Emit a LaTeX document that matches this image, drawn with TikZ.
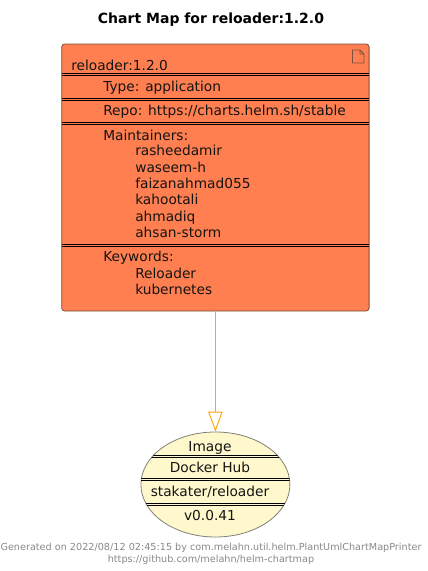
\documentclass[tikz,border=0pt]{standalone}
\usepackage{fontspec}
\setmainfont{DejaVu Sans}
\usetikzlibrary{shapes.geometric,arrows.meta}
\definecolor{chartfill}{HTML}{FF7F50}
\definecolor{chartedge}{HTML}{7A5040}
\definecolor{imgfill}{HTML}{FFF8CC}
\definecolor{imgedge}{HTML}{808078}
\definecolor{linkc}{HTML}{FFA500}
\definecolor{foot}{HTML}{888888}
\tikzset{x=0.75pt,y=-0.75pt,
 chartbox/.style={draw=chartedge,fill=chartfill,rounded corners=2.25pt,line width=0.6pt,minimum width=230.6pt,minimum height=200.25pt,inner sep=0pt},
 imgshape/.style={draw=imgedge,fill=imgfill,ellipse,line width=0.6pt,minimum width=111.75pt,minimum height=78.75pt,inner sep=0pt},
 txt/.style={font=\fontsize{10.3pt}{12pt}\selectfont,anchor=base west,inner sep=0pt,text=black!92},
 txtc/.style={font=\fontsize{10.3pt}{12pt}\selectfont,anchor=base,inner sep=0pt,text=black!92},
 sep/.style={line width=0.6pt,black},
 link/.style={draw=linkc,line width=0.7pt,-{Triangle[open,length=15pt,width=10.8pt,line width=0.7pt]}},
 foottxt/.style={font=\fontsize{7.25pt}{9pt}\selectfont,text=foot,anchor=base,inner sep=0pt}}
\begin{document}
\begin{tikzpicture}
\useasboundingbox (0,0) rectangle (428,571);
\node[font=\bfseries\fontsize{10.5pt}{12pt}\selectfont,anchor=base,inner sep=0pt] (title) at (211,23) {Chart Map for reloader:1.2.0};
\node[chartbox] (chart) at (215.4,177.5) {};
\node[imgshape] (image) at (215.4,484.5) {};
\draw[link] (chart.south) -- (image.north);
\foreach \y in {73.5,75.5,98,100,122.5,124.5,244.8,246.8} \draw[sep] (61.5,\y) -- (369,\y);
\begin{scope}
\clip (215.4,484.5) ellipse [x radius=74.5,y radius=52.5];
\foreach \y in {455,457,478.8,480.8,503.8,505.8} \draw[sep] (140,\y) -- (290,\y);
\end{scope}
\draw[chartedge,line width=0.6pt,line join=round] (352.5,50) -- (360,50) -- (364,54) -- (364,63) -- (352.5,63) -- cycle (360,50) -- (360,54) -- (364,54);
\node[txt] (n0) at (71,70) {reloader:1.2.0};
\node[txt] (n1) at (103,91) {Type: application};
\node[txt] (n2) at (103,115) {Repo: https://charts.helm.sh/stable};
\node[txt] (n3) at (103,140) {Maintainers:};
\node[txt] (m1) at (135,155) {rasheedamir};
\node[txt] (m2) at (135,172) {waseem-h};
\node[txt] (m3) at (135,188) {faizanahmad055};
\node[txt] (m4) at (135,204) {kahootali};
\node[txt] (m5) at (135,221) {ahmadiq};
\node[txt] (m6) at (135,237) {ahsan-storm};
\node[txt] (n4) at (103,261) {Keywords:};
\node[txt] (k1) at (135,278) {Reloader};
\node[txt] (k2) at (135,294) {kubernetes};
\node[txtc] (i1) at (210,451) {Image};
\node[txtc] (i2) at (210,472) {Docker Hub};
\node[txtc] (i3) at (210,496) {stakater/reloader};
\node[txtc] (i4) at (210,520) {v0.0.41};
\node[foottxt] (f1) at (211,550) {Generated on 2022/08/12 02:45:15 by com.melahn.util.helm.PlantUmlChartMapPrinter};
\node[foottxt] (f2) at (211,562) {https://github.com/melahn/helm-chartmap};
\end{tikzpicture}
\end{document}
